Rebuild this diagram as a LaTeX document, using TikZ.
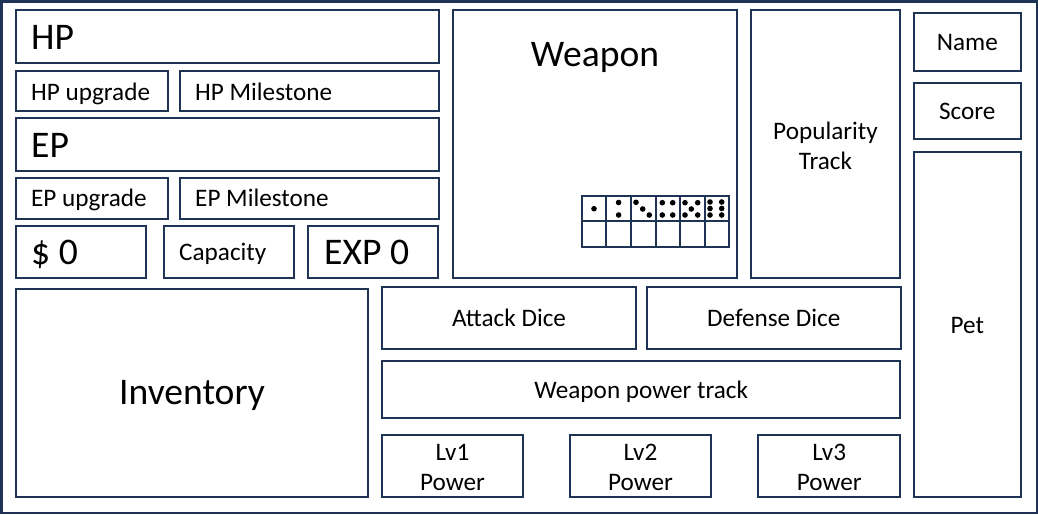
\documentclass[tikz,border=0pt]{standalone}
\usepackage{fontspec}
\setmainfont{Carlito}
\usepackage{tikz}
\definecolor{Marino}{HTML}{1F3455}

\begin{document}
\begin{tikzpicture}[
  x=1pt,y=-1pt,
  panel/.style={draw=Marino,line width=2pt},
  big/.style={font=\fontsize{37.6}{45}\selectfont,inner sep=0pt},
  small/.style={font=\fontsize{25.2}{29.7}\selectfont,inner sep=0pt,align=center},
  pip/.style={fill=black}
]
  \useasboundingbox (0,0) rectangle (1038,514);
  \draw[Marino,line width=2.5pt] (1.25,1.25) rectangle (1036.75,512.75);

  % left column
  \draw[panel] (16,10) rectangle (438.5,62.7);
  \node[big,anchor=base west] (hp) at (31,49.3) {HP};
  \draw[panel] (16,71) rectangle (167.7,110.7);
  \node[small,anchor=base west] (hpup) at (31,100.2) {HP upgrade};
  \draw[panel] (180,71) rectangle (438.5,110.7);
  \node[small,anchor=base west] (hpmile) at (195,100.2) {HP Milestone};
  \draw[panel] (16,118) rectangle (438.5,170.7);
  \node[big,anchor=base west] (ep) at (31,157.7) {EP};
  \draw[panel] (16,178.3) rectangle (167.7,219);
  \node[small,anchor=base west] (epup) at (31,206.4) {EP upgrade};
  \draw[panel] (180,178.3) rectangle (438.5,219);
  \node[small,anchor=base west] (epmile) at (195,206.4) {EP Milestone};
  \draw[panel] (16,226) rectangle (146,278.3);
  \node[big,anchor=base west] (money) at (31,264.3) {\$ 0};
  \draw[panel] (164,226) rectangle (294,278.3);
  \node[small,anchor=base west] (capa) at (179,260.6) {Capacity};
  \draw[panel] (307.7,226) rectangle (437.7,278.3);
  \node[big,anchor=base west] (exp) at (324,264.3) {EXP 0};
  \draw[panel] (16,288.5) rectangle (367.7,496.7);
  \node[big,anchor=base] (inv) at (192,404.6) {Inventory};

  % weapon and dice
  \draw[panel] (452.7,10) rectangle (736.7,277.5);
  \node[big,anchor=base] (weapon) at (595,66) {Weapon};
  \foreach \i in {1,...,5}
    \draw[Marino,line width=2pt] (581.7+24.6*\i,196) -- (581.7+24.6*\i,246.7);
  \draw[Marino,line width=2pt] (581.7,221.3) -- (729.3,221.3);
  \draw[panel] (581.7,196) rectangle (729.3,246.7);
  \foreach \px/\py in {594/208.7,
      618.6/202.5, 618.6/215,
      636/202.3, 642.7/209, 649.3/215,
      662.3/202.7, 672.7/202.7, 662.3/215, 672.7/215,
      685/202.7, 697.7/202.7, 691.3/209, 685/215, 697.7/215,
      710/202, 721.7/202, 710/208.5, 721.7/208.5, 710/215, 721.7/215}
    \fill[pip] (\px,\py) circle (2.8pt);

  \draw[panel] (751,10) rectangle (900,277.5);
  \node[small,anchor=base] (popu) at (825.5,169.2) {Popularity\\Track};

  % right column
  \draw[panel] (914,13.3) rectangle (1020.7,70.7);
  \node[small,anchor=base] (name) at (967.3,50.8) {Name};
  \draw[panel] (914,82.7) rectangle (1020.7,139.3);
  \node[small,anchor=base] (score) at (967.3,119.1) {Score};
  \draw[panel] (914,151.7) rectangle (1020.7,496.7);
  \node[small,anchor=base] (pet) at (967.3,333.1) {Pet};

  % dice and power
  \draw[panel] (382.3,286.7) rectangle (635.7,349);
  \node[small,anchor=base] (atk) at (509,326.6) {Attack Dice};
  \draw[panel] (646.7,286.7) rectangle (901,349);
  \node[small,anchor=base] (def) at (773.8,326.6) {Defense Dice};
  \draw[panel] (382.3,361) rectangle (900,418.3);
  \node[small,anchor=base] (track) at (641.2,398.4) {Weapon power track};
  \draw[panel] (382.3,434.7) rectangle (522.7,496.7);
  \node[small,anchor=base] (lvone) at (452.5,490) {Lv1\\Power};
  \draw[panel] (570.3,434.7) rectangle (710.7,496.7);
  \node[small,anchor=base] (lvtwo) at (640.5,490) {Lv2\\Power};
  \draw[panel] (758.3,434.7) rectangle (900,496.7);
  \node[small,anchor=base] (lvthree) at (829.2,490) {Lv3\\Power};
\end{tikzpicture}
\end{document}
